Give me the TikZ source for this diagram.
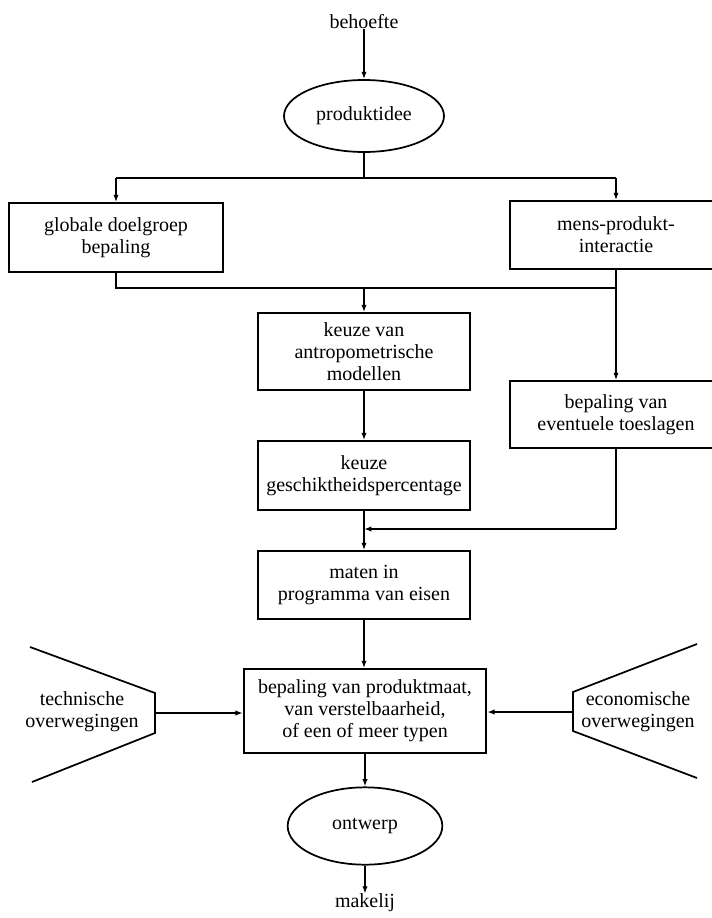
\documentclass[tikz,border=0pt]{standalone}
\usepackage{fontspec}
\setmainfont{Liberation Serif}
\usetikzlibrary{arrows.meta,shapes.geometric}
\begin{document}
\begin{tikzpicture}[x=0.75pt,y=-0.75pt,
  every node/.style={font=\fontsize{15}{16.5}\selectfont, align=center, inner sep=0pt},
  box/.style={draw, line width=1.3pt, minimum width=#1, },
  box/.default={159pt},
  oval/.style={draw, ellipse, line width=1.3pt},
  conn/.style={line width=1.3pt},
  arr/.style={conn, -{Latex[length=5.5pt,width=4pt]}},
]
\useasboundingbox (0,0) rectangle (712,918);
\clip (0,0) rectangle (712,918);

% nodes
\node (beh) at (364,22) {behoefte};
\node[oval, minimum width=120pt, minimum height=54pt] (idee) at (364,116) {produktidee};
\node[box=160.5pt, minimum height=51.75pt] (glob) at (116,237.5) {globale doelgroep\\bepaling};
\node[box=159pt, minimum height=51pt] (mens) at (616,235) {mens-produkt-\\interactie};
\node[box=159pt, minimum height=57.75pt] (antr) at (364,351.5) {keuze van\\antropometrische\\modellen};
\node[box=159pt, minimum height=51.75pt] (gesch) at (364,475.5) {keuze\\geschiktheidspercentage};
\node[box=159pt, minimum height=50.25pt] (toes) at (616,414.5) {bepaling van\\eventuele toeslagen};
\node[box=159pt, minimum height=51pt] (maten) at (364,585) {maten in\\programma van eisen};
\node[box=182pt, minimum height=63pt] (bep) at (365,711) {bepaling van produktmaat,\\van verstelbaarheid,\\of een of meer typen};
\node[oval, minimum width=116pt, minimum height=58pt] (ontw) at (365,826) {ontwerp};
\node (mak) at (365,903) {makelij};

% trapezoids
\coordinate (tA) at (30,647);
\coordinate (tB) at (155,693);
\coordinate (tC) at (155,733);
\coordinate (tD) at (32,782);
\coordinate (tM) at (155,713);
\draw[conn, line join=miter] (tA) -- (tB) -- (tC) -- (tD);
\node (tech) at (82,712) {technische\\overwegingen};

\coordinate (eA) at (697,644);
\coordinate (eB) at (573,692);
\coordinate (eC) at (573,731);
\coordinate (eD) at (697,778);
\coordinate (eM) at (573,712);
\draw[conn, line join=miter] (eA) -- (eB) -- (eC) -- (eD);
\node (econ) at (638,712) {economische\\overwegingen};

% junction coordinates
\coordinate (s1) at (364,178);
\coordinate (s1L) at (116,178);
\coordinate (s1R) at (616,178);
\coordinate (j1) at (364,288);
\coordinate (j1L) at (116,288);
\coordinate (j1R) at (616,288);
\coordinate (j2) at (364,529);
\coordinate (j2R) at (616,529);

% connectors
\draw[arr] (beh) -- (idee);
\draw[conn] (idee) -- (s1);
\draw[conn] (s1L) -- (s1R);
\draw[arr] (s1L) -- (glob.north);
\draw[arr] (s1R) -- (mens.north);
\draw[conn] (glob.south) -- (j1L) -- (j1R);
\draw[arr] (j1) -- (antr.north);
\draw[arr] (mens.south) -- (toes.north);
\draw[arr] (antr) -- (gesch);
\draw[conn] (toes.south) -- (j2R);
\draw[arr] (j2R) -- (j2);
\draw[arr] (gesch) -- (maten);
\draw[arr] (maten.south) -- (maten.south |- bep.north);
\draw[arr] (tM) -- (bep.west |- tM);
\draw[arr] (eM) -- (bep.east |- eM);
\draw[arr] (bep.south) -- (bep.south |- ontw.north);
\draw[arr] (ontw) -- (mak);
\end{tikzpicture}
\end{document}
